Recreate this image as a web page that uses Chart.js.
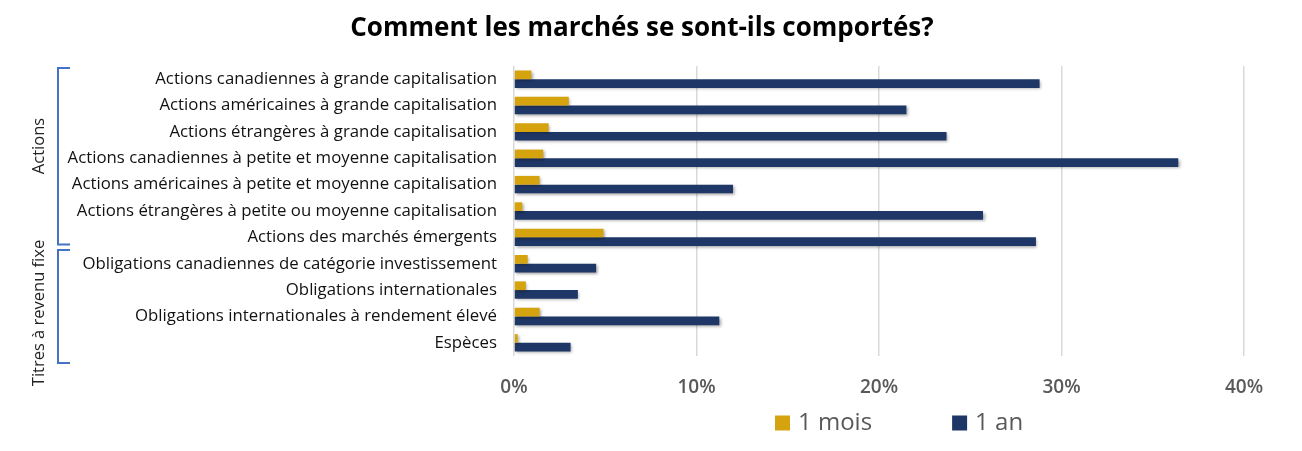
<!DOCTYPE html>
<html>
<head>
<meta charset="utf-8">
<script src="https://cdn.jsdelivr.net/npm/chart.js@4.4.1/dist/chart.umd.min.js"></script>
<style>
  html, body { margin: 0; padding: 0; background: #fff; }
  #wrap { width: 1302px; height: 451px; }
</style>
</head>
<body>
<div id="wrap"><canvas id="graphique"></canvas></div>
<script>
const categories = [
    'Actions canadiennes à grande capitalisation',
    'Actions américaines à grande capitalisation',
    'Actions étrangères à grande capitalisation',
    'Actions canadiennes à petite et moyenne capitalisation',
    'Actions américaines à petite et moyenne capitalisation',
    'Actions étrangères à petite ou moyenne capitalisation',
    'Actions des marchés émergents',
    'Obligations canadiennes de catégorie investissement',
    'Obligations internationales',
    'Obligations internationales à rendement élevé',
    'Espèces'
];
const unMois = [0.95, 3.0, 1.9, 1.6, 1.4, 0.45, 4.9, 0.75, 0.65, 1.4, 0.2];
const unAn = [28.8, 21.5, 23.7, 36.4, 12.0, 25.7, 28.6, 4.5, 3.5, 11.25, 3.1];
const xTicks = [0, 10, 20, 30, 40];
const groupes = [
    { nom: 'Actions', premier: 0, dernier: 6 },
    { nom: 'Titres à revenu fixe', premier: 7, dernier: 10 }
];

const police = '"Open Sans", Lato, sans-serif';

// ombre sous les barres
const ombrePlugin = {
    id: 'ombre',
    beforeDatasetsDraw(chart) {
        const ctx = chart.ctx;
        ctx.save();
        ctx.shadowColor = 'rgba(0,0,0,0.35)';
        ctx.shadowBlur = 3;
        ctx.shadowOffsetX = 1.5;
        ctx.shadowOffsetY = 1.5;
    },
    afterDatasetsDraw(chart) {
        chart.ctx.restore();
    }
};

// accolades et libellés des groupes
const groupesPlugin = {
    id: 'groupes',
    afterDraw(chart) {
        const ctx = chart.ctx;
        const y = chart.scales.y;
        const pas = y.getPixelForValue(1) - y.getPixelForValue(0);
        const decalHaut = [2, -0.5];
        const decalBas = [-6, 7];
        groupes.forEach(function (g, i) {
            const haut = y.getPixelForValue(g.premier) - pas / 2 + decalHaut[i];
            const bas = y.getPixelForValue(g.dernier) + pas / 2 + decalBas[i];
            ctx.save();
            ctx.strokeStyle = '#4472C4';
            ctx.lineWidth = 2;
            ctx.beginPath();
            ctx.moveTo(70, haut);
            ctx.lineTo(58, haut);
            ctx.lineTo(58, bas);
            ctx.lineTo(70, bas);
            ctx.stroke();

            ctx.fillStyle = '#222';
            ctx.font = '16.5px ' + police;
            ctx.textAlign = 'center';
            ctx.textBaseline = 'middle';
            ctx.translate(39, i === 0 ? 146 : 313);
            ctx.rotate(-Math.PI / 2);
            ctx.fillText(g.nom, 0, 0);
            ctx.restore();
        });
    }
};

// légende dessinée sous l'axe
const legendePlugin = {
    id: 'legende',
    afterDraw(chart) {
        const ctx = chart.ctx;
        let x = 775;
        const yc = 423;
        ctx.save();
        ctx.font = '24px ' + police;
        ctx.textBaseline = 'middle';
        ctx.textAlign = 'left';
        chart.data.datasets.forEach(function (ds) {
            ctx.fillStyle = ds.backgroundColor;
            ctx.fillRect(x, yc - 7.5, 15, 15);
            ctx.fillStyle = '#595959';
            ctx.fillText(ds.label, x + 23, yc);
            x += 23 + ctx.measureText(ds.label).width + 80;
        });
        ctx.restore();
    }
};

const ctx = document.getElementById('graphique').getContext('2d');
const graphique = new Chart(ctx, {
    type: 'bar',
    data: {
        labels: categories,
        datasets: [
            {
                label: '1 mois',
                data: unMois,
                backgroundColor: '#D5A30E'
            },
            {
                label: '1 an',
                data: unAn,
                backgroundColor: '#1F3766'
            }
        ]
    },
    plugins: [ombrePlugin, groupesPlugin, legendePlugin],
    options: {
        indexAxis: 'y',
        responsive: true,
        maintainAspectRatio: false,
        animation: false,
        layout: {
            padding: { left: 40, right: 58, top: 0, bottom: 0 }
        },
        datasets: {
            bar: {
                categoryPercentage: 0.66,
                barPercentage: 1
            }
        },
        plugins: {
            title: {
                display: true,
                text: 'Comment les marchés se sont-ils comportés?',
                color: '#000',
                font: { family: police, size: 26, weight: 'bold' },
                padding: { top: 13, bottom: 21.8 }
            },
            legend: { display: false },
            tooltip: { enabled: false }
        },
        scales: {
            x: {
                min: 0,
                max: 40,
                afterBuildTicks(scale) {
                    scale.ticks = xTicks.map(v => ({ value: v }));
                },
                afterFit(scale) {
                    scale.height = 95;
                },
                grid: {
                    color: '#D9D9D9',
                    lineWidth: 1.5,
                    drawTicks: false
                },
                border: { display: false },
                ticks: {
                    padding: 20,
                    color: '#595959',
                    font: { family: police, size: 19, weight: '600' },
                    callback: v => v + '%'
                }
            },
            y: {
                afterFit(scale) {
                    scale.width = 474;
                },
                grid: { display: false, drawTicks: false },
                border: { display: false },
                ticks: {
                    padding: 17,
                    color: '#111',
                    autoSkip: false,
                    font: { family: police, size: 16.8 }
                }
            }
        }
    }
});
</script>
</body>
</html>
